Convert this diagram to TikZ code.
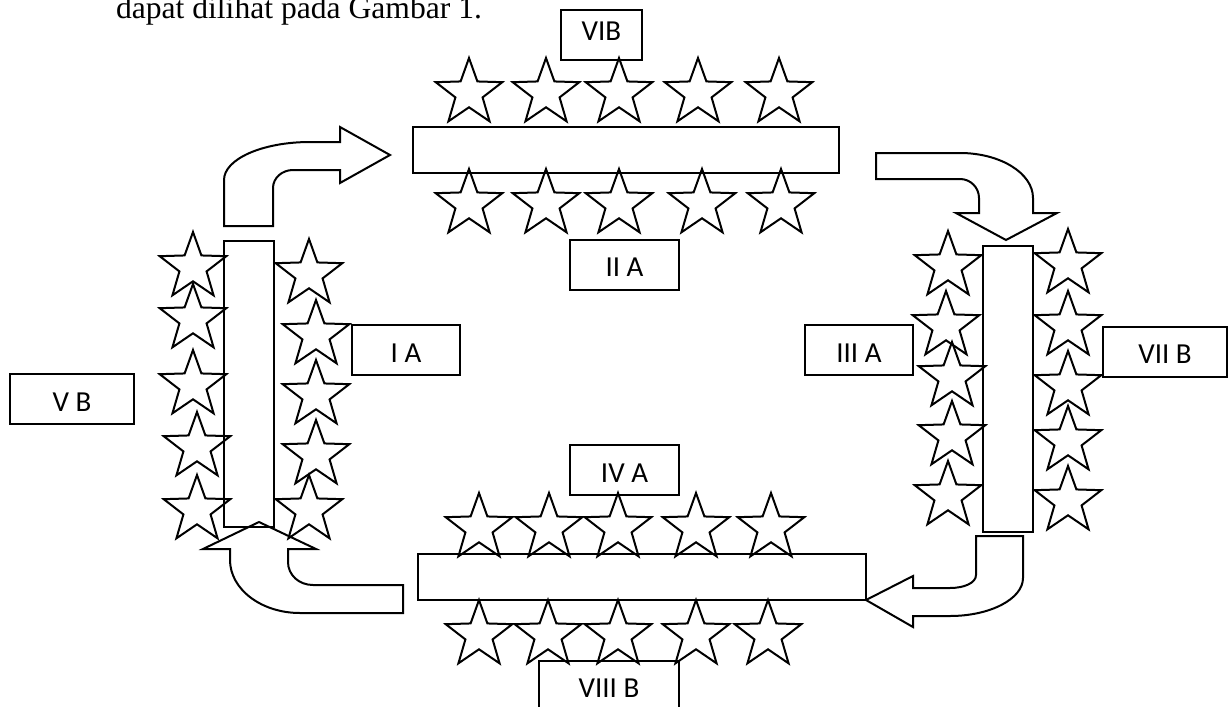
\documentclass[tikz,border=0pt]{standalone}
\usepackage{fontspec}
\setmainfont{Carlito}
\newfontfamily\teksfont{Liberation Serif}
\usetikzlibrary{shapes.geometric}

\begin{document}
\begin{tikzpicture}[
	  x=0.5pt, y=-0.5pt,
	  line width=1pt,
	  bintang/.style={draw, star, star points=5, star point ratio=2.45,
	    minimum size=35pt, inner sep=0pt},
	  meja/.style={draw, inner sep=0pt},
	  kotak/.style={
	    draw,
	    inner sep=0pt,
	    minimum height=25pt,
	    font=\fontsize{14.5}{17}\selectfont,
	    text height=12pt,
	    text depth=0pt
	  },
	  panah/.style={draw, line join=miter}
	]
	\useasboundingbox (0,0) rectangle (1232,707);
	
	% Kalimat di atas gambar
	\node[anchor=base west, inner sep=0pt, font=\teksfont\fontsize{15.8}{18}\selectfont] (teks) at (115,18) {dapat dilihat pada Gambar 1.};
	
	% Meja
	\node[meja, minimum width=213pt, minimum height=23pt] (mejaatas) at (626,150) {};
	\node[meja, minimum width=25pt, minimum height=143pt] (mejakanan) at (1008,389) {};
	\node[meja, minimum width=224pt, minimum height=23pt] (mejabawah) at (642,577) {};
	\node[meja, minimum width=25pt, minimum height=143pt] (mejakiri) at (249,384) {};
	
	% Bintang
	\foreach \x [count=\i] in {469,546,619,698,779}
	  \node[bintang] (atasA\i) at (\x,93) {};
	\foreach \x [count=\i] in {469,546,619,702,781}
	  \node[bintang] (atasB\i) at (\x,204) {};
	\foreach \x [count=\i] in {479,549,618,696,771}
	  \node[bintang] (bawahA\i) at (\x,528) {};
	\foreach \x [count=\i] in {479,548,618,696,768}
	  \node[bintang] (bawahB\i) at (\x,635) {};
	\foreach \x/\y [count=\i] in {193/267,193/319,193/385,197/447,197/510}
	  \node[bintang] (kiriA\i) at (\x,\y) {};
	\foreach \x/\y [count=\i] in {309/274,316/335,316/395,316/455,309/510}
	  \node[bintang] (kiriB\i) at (\x,\y) {};
	\foreach \x/\y [count=\i] in {948/266,946/326,952/377,952/436,948/496}
	  \node[bintang] (kananA\i) at (\x,\y) {};
	\foreach \y [count=\i] in {264,326,386,441,501}
	  \node[bintang] (kananB\i) at (1068,\y) {};
	
	% Kotak label
	\node[kotak, minimum width=40.5pt, text height=6pt] (vib) at (601.5,34.5) {VIB};
	\node[kotak, minimum width=54.5pt] (iia) at (624.5,264.5) {II A};
	\node[kotak, minimum width=54pt] (ia) at (406,350) {I A};
	\node[kotak, minimum width=62pt] (vb) at (72,399) {V B};
	\node[kotak, minimum width=54pt] (iiia) at (859,350) {III A};
	\node[kotak, minimum width=62pt] (viib) at (1165,351.5) {VII B};
	\node[kotak, minimum width=54.5pt] (iva) at (624.5,470) {IV A};
	\node[kotak, minimum width=70pt] (viiib) at (609,685.5) {VIII B};
	
	% Panah blok (kiri atas ke kanan)
	\path[panah] (224,226) -- (224,180)
	  .. controls (224,159) and (262.5,142) .. (310,142)
	  -- (340,142) -- (340,127) -- (390,155) -- (340,183) -- (340,170) -- (293,170)
	  .. controls (282,170) and (273,178) .. (273,188)
	  -- (273,226) -- cycle;
	
	% Panah blok (kanan atas ke bawah)
	\path[panah] (876,153) -- (960,153)
	  .. controls (1000,153) and (1033,173) .. (1033,198)
	  -- (1033,213) -- (1057,213) -- (1006,240) -- (956,213) -- (979,213) -- (979,198)
	  .. controls (979,187.5) and (970.5,179) .. (960,179)
	  -- (876,179) -- cycle;
	
	% Panah blok (kanan bawah ke kiri)
	\path[panah] (976,536) -- (1023,536) -- (1023,578)
	  .. controls (1023,599) and (990,616) .. (950,616)
	  -- (913,616) -- (913,627) -- (866,600) -- (913,576) -- (913,588) -- (950,588)
	  .. controls (964,588) and (976,583) .. (976,575)
	  -- cycle;
	
	% Panah blok (kiri bawah ke atas)
	\path[panah] (403,613) -- (403,585) -- (313,585)
	  .. controls (299,585) and (288,575) .. (288,562)
	  -- (288,549) -- (316,549) -- (259,522) -- (203,549) -- (230,549) -- (230,560)
	  .. controls (230,589) and (261,613) .. (300,613)
	  -- cycle;
	
	\end{tikzpicture}
\end{document}
